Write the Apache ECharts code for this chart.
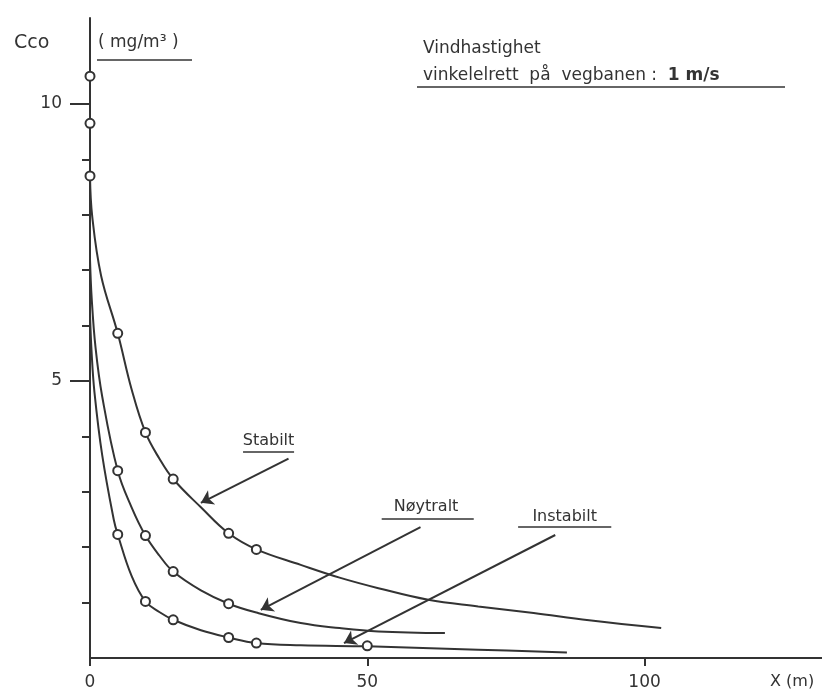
<!DOCTYPE html>
<html>
<head>
<meta charset="utf-8">
<script src="https://cdn.jsdelivr.net/npm/echarts@6/dist/echarts.min.js"></script>
<style>
  html, body { margin: 0; padding: 0; background: #fff; }
  #chart { width: 822px; height: 692px; }
</style>
</head>
<body>
<div id="chart"></div>
<script>
// curve traces (x in m, C in mg/m3)
const stabiltCurve = [[0, 8.7], [0.4, 7.97], [2.0, 6.9], [5, 5.86], [7.5, 4.85], [10, 4.07], [12.5, 3.6], [15, 3.23], [20, 2.72], [25, 2.25], [30, 1.96], [38, 1.68], [45, 1.45], [52, 1.26], [61, 1.05], [70, 0.93], [80, 0.81], [90, 0.68], [103, 0.54]];
const noytraltCurve = [[0, 7.2], [0.3, 6.5], [1, 5.6], [2.2, 4.72], [5, 3.38], [7.5, 2.72], [10, 2.21], [12.5, 1.85], [15, 1.56], [20, 1.22], [25, 0.98], [30, 0.82], [38, 0.63], [45, 0.54], [52, 0.48], [64, 0.45]];
const instabiltCurve = [[0, 6.2], [0.3, 5.5], [0.8, 4.8], [2.2, 3.66], [4.3, 2.49], [5, 2.23], [7.5, 1.48], [10, 1.02], [12.5, 0.83], [15, 0.69], [20, 0.5], [25, 0.37], [30, 0.27], [38, 0.23], [50, 0.21], [70, 0.15], [86, 0.1]];

// measured points (circles)
const stabiltPoints = [[5, 5.86], [10, 4.07], [15, 3.23], [25, 2.25], [30, 1.96]];
const noytraltPoints = [[5, 3.38], [10, 2.21], [15, 1.56], [25, 0.98]];
const instabiltPoints = [[5, 2.23], [10, 1.02], [15, 0.69], [25, 0.37], [30, 0.27], [50, 0.22]];
const axisPoints = [10.5, 9.65, 8.7];   // circles on the C axis at x = 0

// ticks
const xTicks = [0, 50, 100];
const yMajorTicks = [5, 10];
const yMinorTicks = [1, 2, 3, 4, 6, 7, 8, 9];

// curve names with arrow (from -> to), in data units
const labelNames = ['Stabilt', 'Nøytralt', 'Instabilt'];
const labelPos = [[32.2, 3.92], [60.6, 2.73], [85.6, 2.55]];
const underlines = [[[27.6, 3.72], [36.8, 3.72]], [[52.6, 2.51], [69.2, 2.51]], [[77.2, 2.36], [94.0, 2.36]]];
const arrows = [[[35.8, 3.6], [20.0, 2.8]], [[59.6, 2.36], [30.8, 0.87]], [[83.9, 2.22], [45.8, 0.27]]];

const ink = '#333';
const font = 'DejaVu Sans';

const chart = echarts.init(document.getElementById('chart'));

const curveSeries = (data) => ({
  type: 'line',
  data: data,
  smooth: 0.4,
  showSymbol: false,
  lineStyle: { color: ink, width: 2 },
  z: 2
});

const pointSeries = (data) => ({
  type: 'scatter',
  data: data,
  symbol: 'circle',
  symbolSize: 9,
  itemStyle: { color: '#fff', borderColor: ink, borderWidth: 2, opacity: 1 },
  z: 5
});

chart.setOption({
  backgroundColor: '#fff',
  animation: false,
  grid: { left: 90, right: 0, top: 18, bottom: 34 },
  xAxis: [
    {
      type: 'value', min: 0, max: 132,
      axisLine: { lineStyle: { color: ink, width: 2 } },
      axisTick: { customValues: xTicks, length: 8, lineStyle: { color: ink, width: 2 } },
      axisLabel: { customValues: xTicks, margin: 16, color: ink, fontSize: 17, fontFamily: font },
      splitLine: { show: false }
    },
    {
      type: 'value', min: 0, max: 132, position: 'top',
      axisLine: { lineStyle: { color: ink, width: 2 } },
      axisTick: { show: false }, axisLabel: { show: false }, splitLine: { show: false }
    }
  ],
  yAxis: [
    {
      type: 'value', min: 0, max: 11.55,
      axisLine: { lineStyle: { color: ink, width: 2 } },
      axisTick: { customValues: yMajorTicks, length: 20, lineStyle: { color: ink, width: 2 } },
      axisLabel: { customValues: yMajorTicks, margin: 28, color: ink, fontSize: 17, fontFamily: font },
      splitLine: { show: false }
    },
    {
      type: 'value', min: 0, max: 11.55, position: 'left',
      axisLine: { show: false },
      axisTick: { show: true, customValues: yMinorTicks, length: 8, lineStyle: { color: ink, width: 2 } },
      axisLabel: { show: false }, splitLine: { show: false }
    }
  ],
  series: [
    curveSeries(stabiltCurve),
    curveSeries(noytraltCurve),
    curveSeries(instabiltCurve),
    pointSeries(stabiltPoints),
    pointSeries(noytraltPoints),
    pointSeries(instabiltPoints),
    pointSeries(axisPoints.map(v => [0, v])),
    {
      type: 'lines', coordinateSystem: 'cartesian2d',
      data: arrows.map(a => ({ coords: a })),
      symbol: ['none', 'arrow'], symbolSize: [0, 12],
      lineStyle: { color: ink, width: 2, opacity: 1 },
      z: 3
    },
    {
      type: 'lines', coordinateSystem: 'cartesian2d',
      data: underlines.map(a => ({ coords: a })),
      lineStyle: { color: ink, width: 1.5, opacity: 1 },
      z: 3
    },
    {
      type: 'scatter', symbolSize: 0,
      itemStyle: { opacity: 1 },
      data: labelNames.map((n, i) => ({ name: n, value: labelPos[i] })),
      label: {
        show: true, position: 'inside', formatter: '{b}',
        color: ink, fontSize: 16, fontFamily: font
      },
      z: 4
    }
  ],
  graphic: [
    { type: 'text', left: 14, top: 34, style: { text: 'Cco', fill: ink, fontSize: 19, fontFamily: font } },
    { type: 'text', left: 98, top: 34, style: { text: '( mg/m³ )', fill: ink, fontSize: 17, fontFamily: font } },
    { type: 'line', shape: { x1: 97, y1: 60, x2: 192, y2: 60 }, style: { stroke: ink, lineWidth: 1.5 } },
    { type: 'text', left: 423, top: 40, style: { text: 'Vindhastighet', fill: ink, fontSize: 17, fontFamily: font } },
    {
      type: 'text', left: 423, top: 67,
      style: {
        text: 'vinkelelrett  på  vegbanen :  {b|1 m/s}',
        fill: ink, fontSize: 17, fontFamily: font,
        rich: { b: { fontSize: 17, fontWeight: 'bold', fontFamily: font, fill: ink } }
      }
    },
    { type: 'line', shape: { x1: 417, y1: 87, x2: 785, y2: 87 }, style: { stroke: ink, lineWidth: 1.5 } },
    { type: 'text', left: 770, top: 674, style: { text: 'X (m)', fill: ink, fontSize: 16, fontFamily: font } }
  ]
});
</script>
</body>
</html>
